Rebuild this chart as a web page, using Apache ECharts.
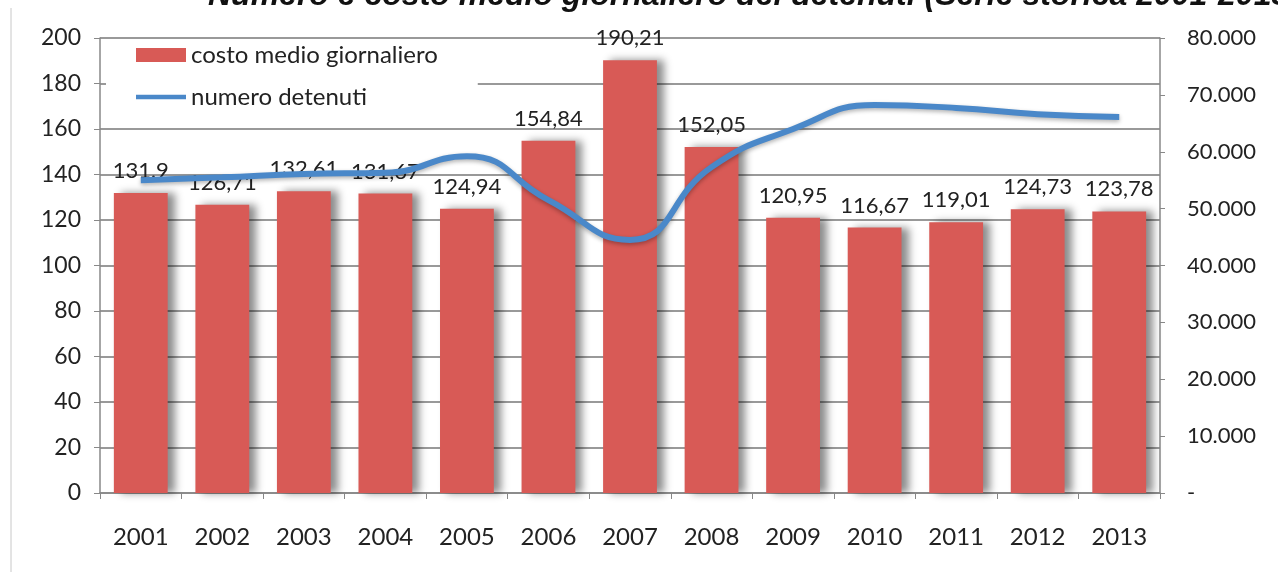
<!DOCTYPE html>
<html>
<head>
<meta charset="utf-8">
<script src="https://cdn.jsdelivr.net/npm/echarts@6/dist/echarts.min.js"></script>
<style>
  html, body { margin: 0; padding: 0; background: #fff; }
  #chart { width: 1278px; height: 572px; }
</style>
</head>
<body>
<div id="chart"></div>
<script>
// Years on the category axis
const years = ['2001','2002','2003','2004','2005','2006','2007','2008','2009','2010','2011','2012','2013'];
// Average daily cost per inmate (euro)
const costoMedio = [131.9, 126.71, 132.61, 131.67, 124.94, 154.84, 190.21, 152.05, 120.95, 116.67, 119.01, 124.73, 123.78];
// Number of inmates
const numeroDetenuti = [55000, 55500, 56100, 56300, 59200, 51500, 44500, 57300, 64000, 68200, 67700, 66600, 66100];

const titleText = 'Numero e costo medio giornaliero dei detenuti (Serie storica 2001-2013)';
const font = 'Lato, "Open Sans", sans-serif';

function itNumber(v) {
  if (v === 0) return '-';
  return String(v).replace(/\B(?=(\d{3})+(?!\d))/g, '.');
}

const chart = echarts.init(document.getElementById('chart'), null, { renderer: 'canvas' });
chart.setOption({
  animation: false,
  backgroundColor: '#ffffff',
  title: {
    text: titleText,
    left: 203,
    top: -25,
    textStyle: {
      fontFamily: '"Liberation Sans", Arial, sans-serif',
      fontSize: 32,
      fontWeight: 'bold',
      fontStyle: 'italic',
      color: '#111'
    }
  },
  graphic: [
    { type: 'line', shape: { x1: 11, y1: 8, x2: 11, y2: 572 }, style: { stroke: '#c8c8c8', lineWidth: 1 } }
  ],
  legend: {
    left: 106,
    top: 40,
    orient: 'vertical',
    itemGap: 18,
    itemWidth: 50,
    itemHeight: 14,
    padding: [3, 40, 12, 30],
    backgroundColor: '#ffffff',
    textStyle: { fontFamily: font, fontSize: 24, color: '#222' },
    data: [
      { name: 'costo medio giornaliero', icon: 'rect' },
      { name: 'numero detenuti', icon: 'path://M0,5 L50,5 L50,9.5 L0,9.5 Z' }
    ]
  },
  grid: { left: 100, right: 118, top: 38, bottom: 79 },
  xAxis: {
    type: 'category',
    data: years,
    axisLine: { lineStyle: { color: '#888', width: 1.5 } },
    axisTick: { show: true, alignWithLabel: false, length: 6, lineStyle: { color: '#888' } },
    axisLabel: { fontFamily: font, fontSize: 24, color: '#222', margin: 32 }
  },
  yAxis: [
    {
      type: 'value',
      min: 0, max: 200, interval: 20,
      axisLine: { show: true, lineStyle: { color: '#888', width: 1.5 } },
      axisTick: { show: true, length: 6, lineStyle: { color: '#888' } },
      axisLabel: { fontFamily: font, fontSize: 23, color: '#222', margin: 19 },
      splitLine: { show: true, lineStyle: { color: '#777', width: 1.5 } }
    },
    {
      type: 'value',
      min: 0, max: 80000, interval: 10000,
      position: 'right',
      axisLine: { show: true, lineStyle: { color: '#888', width: 1.5 } },
      axisTick: { show: true, inside: false, length: 5, lineStyle: { color: '#888' } },
      axisLabel: { fontFamily: font, fontSize: 22, color: '#222', margin: 27, formatter: itNumber },
      splitLine: { show: false }
    }
  ],
  series: [
    {
      name: 'costo medio giornaliero',
      type: 'bar',
      yAxisIndex: 0,
      data: costoMedio,
      barWidth: '66%',
      itemStyle: {
        color: '#d85a56',
        shadowColor: 'rgba(0,0,0,0.45)',
        shadowBlur: 8,
        shadowOffsetX: 7,
        shadowOffsetY: 0
      },
      label: {
        show: true,
        position: 'top',
        distance: 11,
        fontFamily: font,
        fontSize: 22,
        color: '#222',
        formatter: p => String(p.value).replace('.', ',')
      },
      z: 2
    },
    {
      name: 'numero detenuti',
      type: 'line',
      yAxisIndex: 1,
      data: numeroDetenuti,
      smooth: 0.5,
      symbol: 'none',
      lineStyle: {
        color: '#4a88c9',
        width: 6,
        shadowColor: 'rgba(0,0,0,0.3)',
        shadowBlur: 4,
        shadowOffsetY: 2
      },
      itemStyle: { color: '#4a88c9' },
      z: 3
    }
  ]
});
</script>
</body>
</html>
